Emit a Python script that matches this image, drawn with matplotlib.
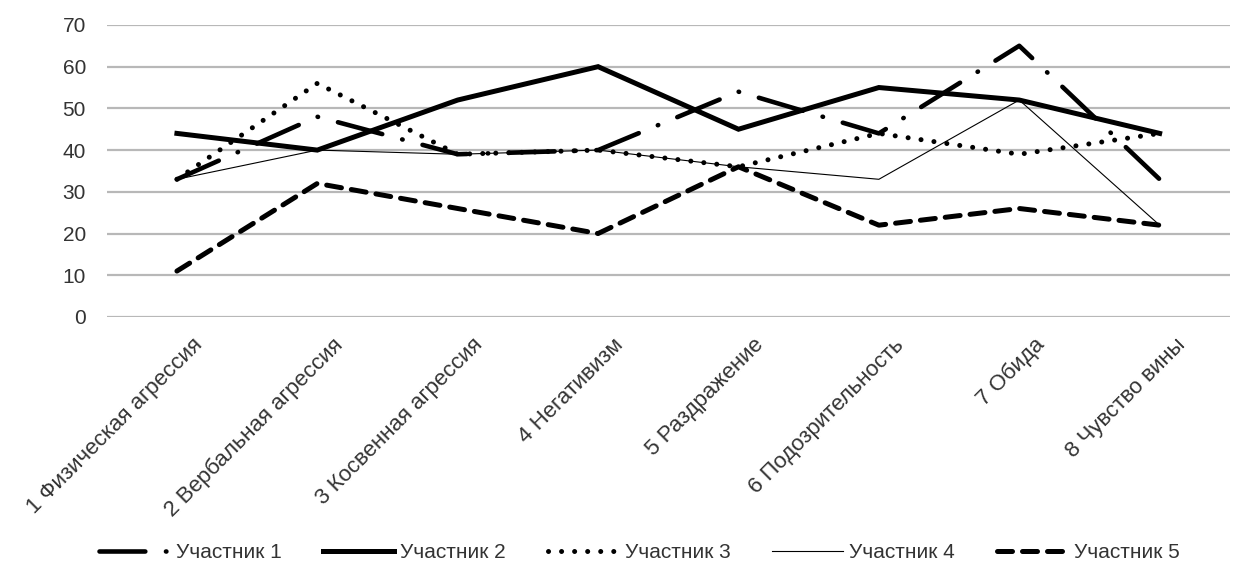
import matplotlib
matplotlib.use("Agg")
import matplotlib.pyplot as plt
import matplotlib.transforms as mtransforms

plt.rcParams['font.family'] = ['Liberation Sans', 'DejaVu Sans']

categories = ["1 Физическая агрессия", "2 Вербальная агрессия", "3 Косвенная агрессия",
              "4 Негативизм", "5 Раздражение", "6 Подозрительность", "7 Обида",
              "8 Чувство вины"]
participant_1 = [33, 48, 39, 40, 54, 44, 65, 33]
participant_2 = [44, 40, 52, 60, 45, 55, 52, 44]
participant_3 = [33, 56, 39, 40, 36, 44, 39, 44]
participant_4 = [33, 40, 39, 40, 36, 33, 52, 22]
participant_5 = [11, 32, 26, 20, 36, 22, 26, 22]
names = ["Участник 1", "Участник 2", "Участник 3", "Участник 4", "Участник 5"]
y_ticks = [0, 10, 20, 30, 40, 50, 60, 70]

fig = plt.figure(figsize=(12.41, 5.67), dpi=100)
ax = fig.add_axes([0.086, 0.441, 0.905, 0.515])

x = list(range(len(categories)))
text_color = '#333333'

ax.plot(x, participant_1, color='black', lw=3.3, dashes=(10, 4.5, 0.1, 4.5),
        dash_capstyle='round', label=names[0], zorder=3)
ax.plot(x, participant_2, color='black', lw=3.6, solid_joinstyle='miter',
        label=names[1], zorder=3)
ax.plot(x, participant_3, color='black', lw=3.6, dashes=(0.01, 2.6),
        dash_capstyle='round', label=names[2], zorder=3)
ax.plot(x, participant_4, color='black', lw=0.8, label=names[3], zorder=3)
ax.plot(x, participant_5, color='black', lw=3.6, dashes=(3.0, 2.0),
        dash_capstyle='round', label=names[4], zorder=3)

ax.set_xlim(-0.5, len(categories) - 0.5)
ax.set_ylim(0, 70)
ax.set_yticks(y_ticks)
ax.yaxis.grid(True, color='#b8b8b8', lw=1.6)
ax.set_axisbelow(True)
for side in ['top', 'right', 'left', 'bottom']:
    ax.spines[side].set_visible(False)
ax.tick_params(axis='both', length=0, labelsize=15, colors=text_color)
ax.tick_params(axis='y', pad=15)
ax.set_xticks(x)
ax.set_xticklabels(categories, rotation=45, ha='right', va='center',
                   rotation_mode='anchor', fontsize=16, color=text_color)
ax.tick_params(axis='x', pad=16)
# shift the rotated labels a bit to the right, like in the original
offset = mtransforms.ScaledTranslation(16 / 72, -2 / 72, fig.dpi_scale_trans)
for label in ax.get_xticklabels():
    label.set_transform(label.get_transform() + offset)

fig.legend(loc='center', bbox_to_anchor=(0.515, 0.025), ncol=5, frameon=False,
           fontsize=15, handlelength=3.4, handletextpad=0.3, columnspacing=2.0,
           labelcolor=text_color)

fig.savefig('out.png', dpi=100)
